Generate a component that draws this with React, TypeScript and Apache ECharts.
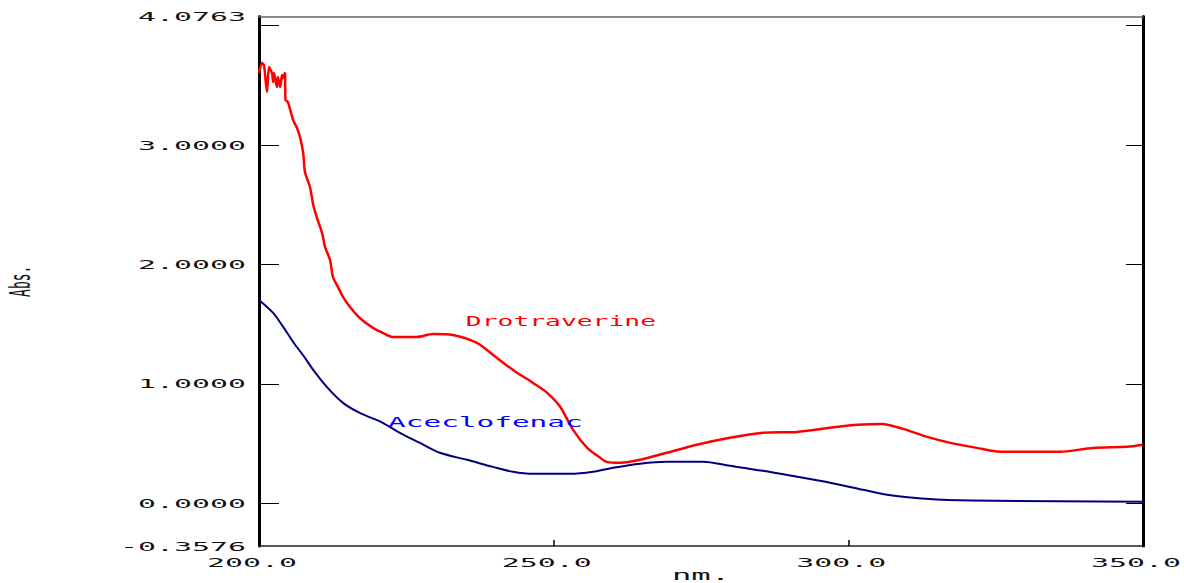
import React, { useEffect, useRef } from "react";
import * as echarts from "echarts";

const xRange = [200, 350];
const yRange = [-0.3576, 4.0763];
const xTickInterval = 50;
const xLabelValues = [200, 250, 300, 350];
const yTickValues = [0, 1, 2, 3, 4];
const yLabelValues = [-0.3576, 0, 1, 2, 3, 4.0763];
const xAxisName = "nm.";
const yAxisName = "Abs.";

const drotaverineNm = [
  200.0, 200.5, 200.85, 201.36, 201.7, 202.2, 202.4, 202.55, 203.05, 203.2, 203.6, 203.9, 204.1, 204.4,
  204.5, 204.9, 205.3, 205.8, 206.45, 206.96, 207.5, 207.8, 208.65, 209.2, 209.85, 210.7, 211.2, 212.05,
  212.55, 213.4, 214.25, 215.45, 217.1, 219.35, 221.0, 222.7, 226.8, 229.5, 232.9, 237.0, 239.7, 243.1,
  246.5, 248.9, 251.1, 253.3, 255.7, 257.9, 259.05, 261.3, 264.7, 269.2, 274.3, 279.9, 285.5, 291.3,
  296.9, 301.5, 305.7, 309.3, 313.4, 317.3, 321.8, 325.7, 335.9, 341.5, 347.3, 350.0,
];
const drotaverineAbs = [
  3.603, 3.686, 3.669, 3.444, 3.653, 3.603, 3.527, 3.603, 3.485, 3.569, 3.485, 3.586, 3.561, 3.603,
  3.377, 3.36, 3.293, 3.209, 3.142, 3.067, 2.933, 2.774, 2.649, 2.498, 2.389, 2.264, 2.147, 2.038,
  1.895, 1.812, 1.728, 1.644, 1.552, 1.469, 1.427, 1.393, 1.393, 1.418, 1.41, 1.343, 1.243, 1.117,
  1.008, 0.925, 0.808, 0.615, 0.464, 0.381, 0.347, 0.339, 0.364, 0.423, 0.49, 0.548, 0.59, 0.598,
  0.632, 0.657, 0.665, 0.623, 0.556, 0.506, 0.464, 0.431, 0.431, 0.464, 0.473, 0.49,
];

const aceclofenacNm = [
  200.0, 202.4, 204.1, 205.8, 207.8, 209.2, 211.5, 214.25, 217.1, 221.0, 223.9, 227.3, 230.7, 235.3,
  239.7, 243.1, 246.5, 252.8, 256.7, 260.1, 264.65, 269.2, 275.3, 279.9, 285.5, 291.3, 296.9, 302.5,
  306.6, 311.0, 316.1, 324.6, 350.0,
];
const aceclofenacAbs = [
  1.703, 1.594, 1.477, 1.351, 1.218, 1.117, 0.975, 0.841, 0.757, 0.674, 0.59, 0.506, 0.423, 0.364,
  0.305, 0.264, 0.247, 0.247, 0.264, 0.297, 0.331, 0.347, 0.347, 0.314, 0.272, 0.222, 0.172, 0.113,
  0.071, 0.046, 0.029, 0.021, 0.013,
];

const annotationTexts = ["Drotraverine", "Aceclofenac"];
const annotationNm = [235.1, 221.9];
const annotationAbs = [1.523, 0.678];
const annotationColors = ["#ff0000", "#0000ff"];

const MONO = '"DejaVu Sans Mono", "Liberation Mono", monospace';

function textEl(
  text: string,
  x: number,
  y: number,
  align: string,
  opts: { size?: number; color?: string; scaleX?: number; scaleY?: number; rotation?: number; vAlign?: string } = {}
) {
  return {
    type: "text",
    x,
    y,
    scaleX: opts.scaleX ?? 1,
    scaleY: opts.scaleY ?? 1,
    rotation: opts.rotation ?? 0,
    silent: true,
    z: 100,
    style: {
      text,
      fontSize: opts.size ?? 13,
      fontFamily: MONO,
      fill: opts.color ?? "#111",
      align,
      textAlign: align,
      verticalAlign: opts.vAlign ?? "middle",
      textVerticalAlign: opts.vAlign ?? "middle",
    },
  };
}

export default function App() {
  const ref = useRef<HTMLDivElement>(null);

  useEffect(() => {
    const el = ref.current!;
    const chart = echarts.init(el, null, { renderer: "svg" });

    const redData = drotaverineNm.map((x, i) => [x, drotaverineAbs[i]]);
    const blueData = aceclofenacNm.map((x, i) => [x, aceclofenacAbs[i]]);

    const baseX = {
      type: "value",
      min: xRange[0],
      max: xRange[1],
      interval: xTickInterval,
      splitLine: { show: false },
      axisLabel: { show: false },
    };
    const baseY = {
      type: "value",
      min: yRange[0],
      max: yRange[1],
      splitLine: { show: false },
      axisLabel: { show: false },
    };

    chart.setOption({
      animation: false,
      backgroundColor: "#ffffff",
      grid: { left: 259, right: 41, top: 16.5, bottom: 37, containLabel: false },
      xAxis: [
        {
          ...baseX,
          position: "bottom",
          axisLine: { show: true, onZero: false, lineStyle: { color: "#222", width: 1.5 } },
          axisTick: { show: true, inside: true, length: 6, lineStyle: { color: "#000", width: 1.5 } },
        },
        {
          ...baseX,
          position: "top",
          axisLine: { show: true, onZero: false, lineStyle: { color: "#666", width: 1.5 } },
          axisTick: { show: false },
        },
      ],
      yAxis: [
        {
          ...baseY,
          position: "left",
          axisLine: { show: true, onZero: false, lineStyle: { color: "#000", width: 3 } },
          axisTick: {
            show: true,
            inside: true,
            length: 20,
            customValues: yTickValues,
            lineStyle: { color: "#000", width: 1 },
          },
        },
        {
          ...baseY,
          position: "right",
          axisLine: { show: true, onZero: false, lineStyle: { color: "#000", width: 3 } },
          axisTick: {
            show: true,
            inside: true,
            length: 17,
            customValues: yTickValues,
            lineStyle: { color: "#000", width: 1 },
          },
        },
      ],
      series: [
        {
          name: "Drotraverine",
          type: "line",
          data: redData,
          showSymbol: false,
          symbol: "none",
          smooth: 0.25,
          lineStyle: { color: "#ff0000", width: 2.5 },
          z: 3,
        },
        {
          name: "Aceclofenac",
          type: "line",
          data: blueData,
          showSymbol: false,
          symbol: "none",
          smooth: 0.3,
          lineStyle: { color: "#00007f", width: 2 },
          z: 2,
        },
      ],
    });

    const toPx = (x: number, y: number) =>
      chart.convertToPixel({ gridIndex: 0 }, [x, y]) as unknown as number[];

    const graphics: any[] = [];
    const [leftX] = toPx(xRange[0], 0);
    const [rightX, bottomY] = toPx(xRange[1], yRange[0]);
    const [, topY] = toPx(xRange[0], yRange[1]);

    yLabelValues.forEach((v) => {
      const [, py] = toPx(xRange[0], v);
      graphics.push(textEl(v.toFixed(4), leftX - 13, py, "right", { scaleX: 2.3 }));
    });
    xLabelValues.forEach((v) => {
      const [px] = toPx(v, yRange[0]);
      graphics.push(textEl(v.toFixed(1), px - 7, bottomY + 16, "center", { scaleX: 2.3 }));
    });
    graphics.push(
      textEl(xAxisName, (leftX + rightX) / 2, 582, "center", { scaleX: 2.3, size: 14, vAlign: "bottom" })
    );
    graphics.push(
      textEl(yAxisName, 20, (topY + bottomY) / 2, "center", { rotation: Math.PI / 2, scaleY: 2.2, size: 13 })
    );
    annotationTexts.forEach((t, i) => {
      const [px, py] = toPx(annotationNm[i], annotationAbs[i]);
      graphics.push(textEl(t, px, py, "left", { scaleX: i === 0 ? 1.88 : 2.1, size: 14, color: annotationColors[i] }));
    });

    chart.setOption({ graphic: { elements: graphics } });

    return () => chart.dispose();
  }, []);

  return (
    <div
      ref={ref}
      style={{ position: "fixed", left: 0, top: 0, width: 1184, height: 583, background: "#fff" }}
    />
  );
}
